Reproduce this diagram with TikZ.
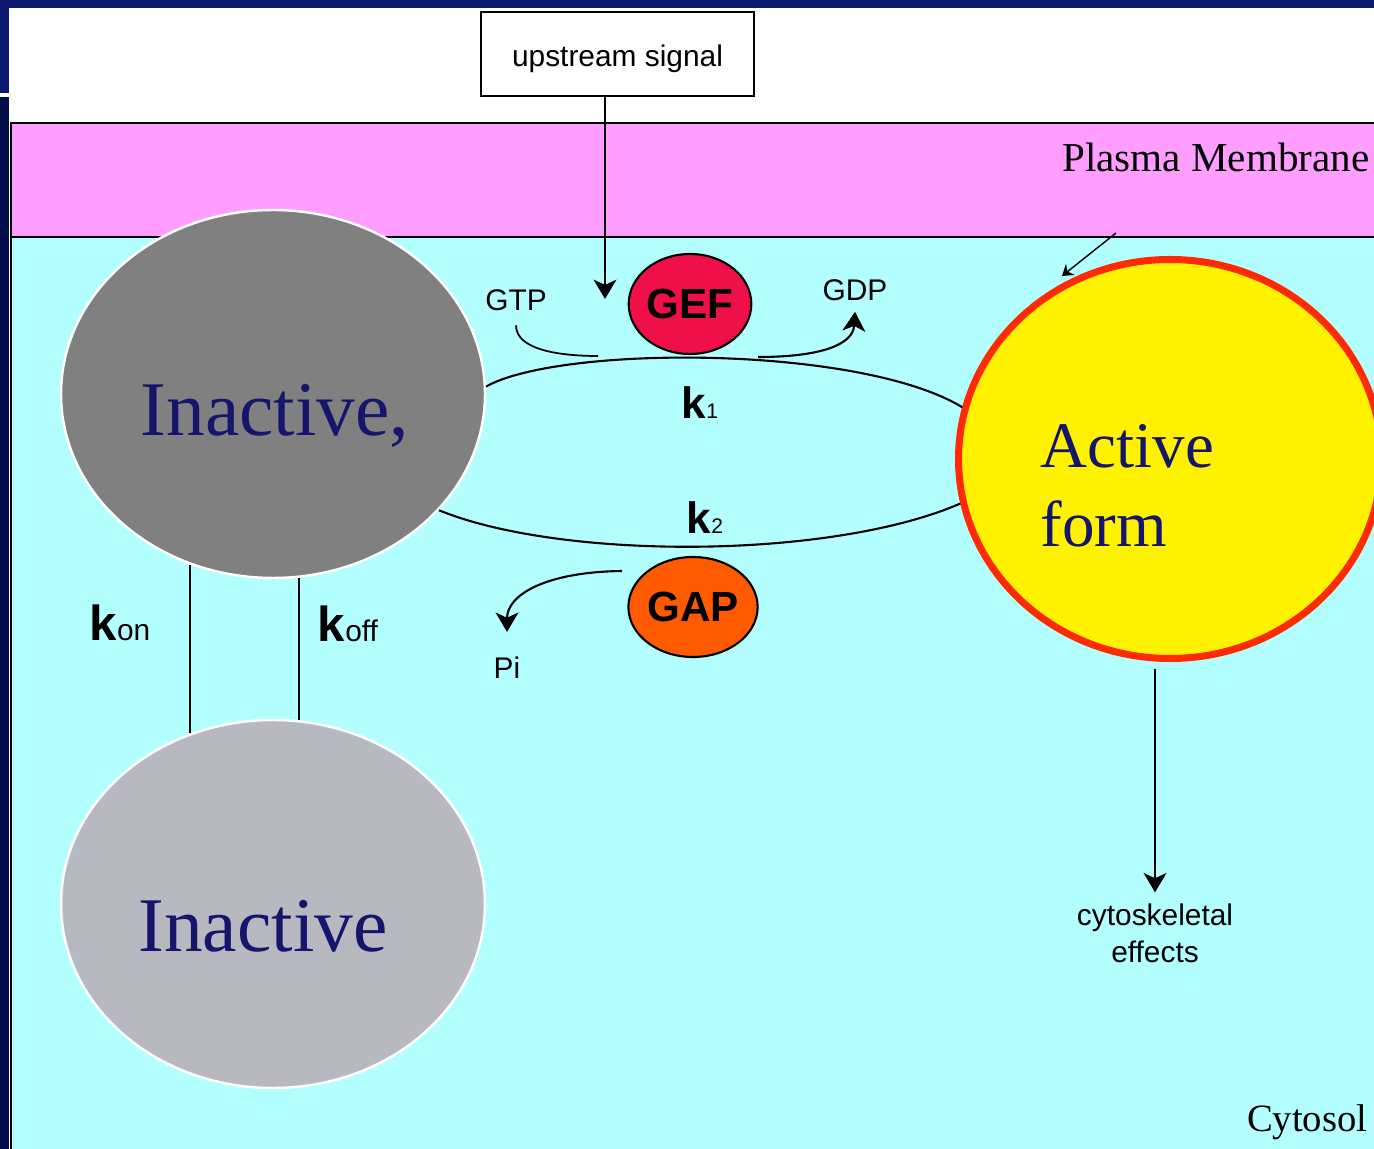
\documentclass[tikz,border=0pt]{standalone}
\usepackage{fontspec}
\setmainfont{Liberation Serif}
\newfontfamily\pixsans{Liberation Sans}
\usetikzlibrary{arrows.meta,shapes.geometric}

\definecolor{navyA}{HTML}{0B1A6E}
\definecolor{navyB}{HTML}{020D4A}
\definecolor{membr}{HTML}{FF9EFF}
\definecolor{cyto}{HTML}{B3FFFF}
\definecolor{grayA}{HTML}{808080}
\definecolor{grayB}{HTML}{B8B8C0}
\definecolor{redB}{HTML}{FF2A00}
\definecolor{gefcol}{HTML}{EF104A}
\definecolor{gapcol}{HTML}{FF5A00}
\definecolor{inktxt}{HTML}{15166B}

\begin{document}
\begin{tikzpicture}[x=0.1mm,y=-0.1mm,
  blob/.style={ellipse,draw=white,line width=0.7pt,minimum width=42.4mm,minimum height=36.8mm,inner sep=0pt},
  enz/.style={ellipse,draw=black,line width=0.6pt,minimum width=11.6mm,minimum height=10mm,inner sep=0pt,font=\pixsans\bfseries\fontsize{12}{12}\selectfont},
  lbl/.style={font=\pixsans\fontsize{8.5}{10.5}\selectfont,inner sep=0pt},
  big/.style={text=inktxt,inner sep=0pt},
  arr/.style={line width=0.6pt,-{Stealth[length=5.5pt,width=6.5pt,inset=1.5pt]}}]
\useasboundingbox (0,0) rectangle (1374,1149);
\clip (0,0) rectangle (1374,1149);

% frame
\fill[navyA] (0,0) rectangle (1374,93);
\fill[navyB] (0,97) rectangle (9,1149);
\fill[white] (8.5,8) rectangle (1374,1149);

% membrane and cytosol
\draw[line width=0.6pt,fill=membr] (11,123) rectangle (1380,237);
\draw[line width=0.6pt,fill=cyto] (11,237) rectangle (1380,1160);
\node[font=\fontsize{11.7}{11.7}\selectfont,anchor=east,inner sep=0pt] (pm) at (1370,157) {Plasma Membrane};
\node[font=\fontsize{11}{11}\selectfont,anchor=east,inner sep=0pt] (cy) at (1368,1122) {Cytosol};

% signal box
\node[lbl,draw,line width=0.6pt,fill=white,minimum width=27.3mm,minimum height=8.4mm,text height=8.4pt,text depth=1pt] (sig) at (617.5,54) {upstream signal};
\coordinate (sigtip) at (605,299);
\draw[arr] (sig.south -| sigtip) -- (sigtip);

% the three forms
\node[blob,fill=grayA] (inact) at (273,394) {};
\node[blob,fill=grayB] (inactb) at (273,904) {};
\node[ellipse,draw=redB,line width=2pt,fill=yellow,minimum width=42.3mm,minimum height=39.9mm,inner sep=0pt] (act) at (1170,459) {};
\node[big,font=\fontsize{22}{22}\selectfont] (inacttxt) at (275,416) {Inactive,};
\node[big,font=\fontsize{22}{22}\selectfont] (inactbtxt) at (263,926) {Inactive};
\node[big,font=\fontsize{18.5}{22.4}\selectfont,align=left,anchor=west] (acttxt) at (1040,486) {Active\\form};

% cycle
\draw[line width=0.6pt] (inact.2) .. controls (560,345) and (860,345) .. (act.166);
\draw[line width=0.6pt] (inact.-35) .. controls (560,560) and (830,560) .. (act.-168);
\node[lbl,font=\pixsans\fontsize{12.5}{12}\selectfont] (k1) at (700,403) {\bfseries k{\fontsize{6}{6}\selectfont\mdseries 1}};
\node[lbl,font=\pixsans\fontsize{12.5}{12}\selectfont] (k2) at (705,518) {\bfseries k{\fontsize{6}{6}\selectfont\mdseries 2}};

\node[enz,fill=gefcol] (gef) at (690,304) {GEF};
\node[enz,fill=gapcol] (gap) at (693,607) {GAP};

\node[lbl] (gtp) at (516,300) {GTP};
\node[lbl] (gdp) at (855,290) {GDP};
\node[lbl] (pi) at (507,668) {Pi};
\draw[line width=0.5pt] ([yshift=-4pt]gtp.south) .. controls (516,350) and (560,356) .. (598,356);
\draw[arr] (758,357) .. controls (820,357) and (853,345) .. ([yshift=-3pt]gdp.south);
\draw[arr] (622,571) .. controls (545,572) and (507,595) .. ([yshift=7pt]pi.north);

% membrane binding
\draw[line width=0.6pt] (inact.-116) -- (inactb.116);
\draw[line width=0.6pt] (inact.-82) -- (inactb.82);
\node[lbl] (kon) at (120,623) {{\fontsize{14}{14}\selectfont\bfseries k}on};
\node[lbl] (koff) at (348,624) {{\fontsize{14}{14}\selectfont\bfseries k}off};

\coordinate (mtop) at (1116,233);
\coordinate (mtip) at (1062,276);
\draw[line width=0.4pt,-{Stealth[length=3pt,width=4pt]}] (mtop) -- (mtip);

% output
\node[lbl,align=center] (fx) at (1155,933) {cytoskeletal\\effects};
\draw[arr,shorten <=2pt,shorten >=3pt] (act.south -| fx.north) -- (fx.north);
\end{tikzpicture}
\end{document}
